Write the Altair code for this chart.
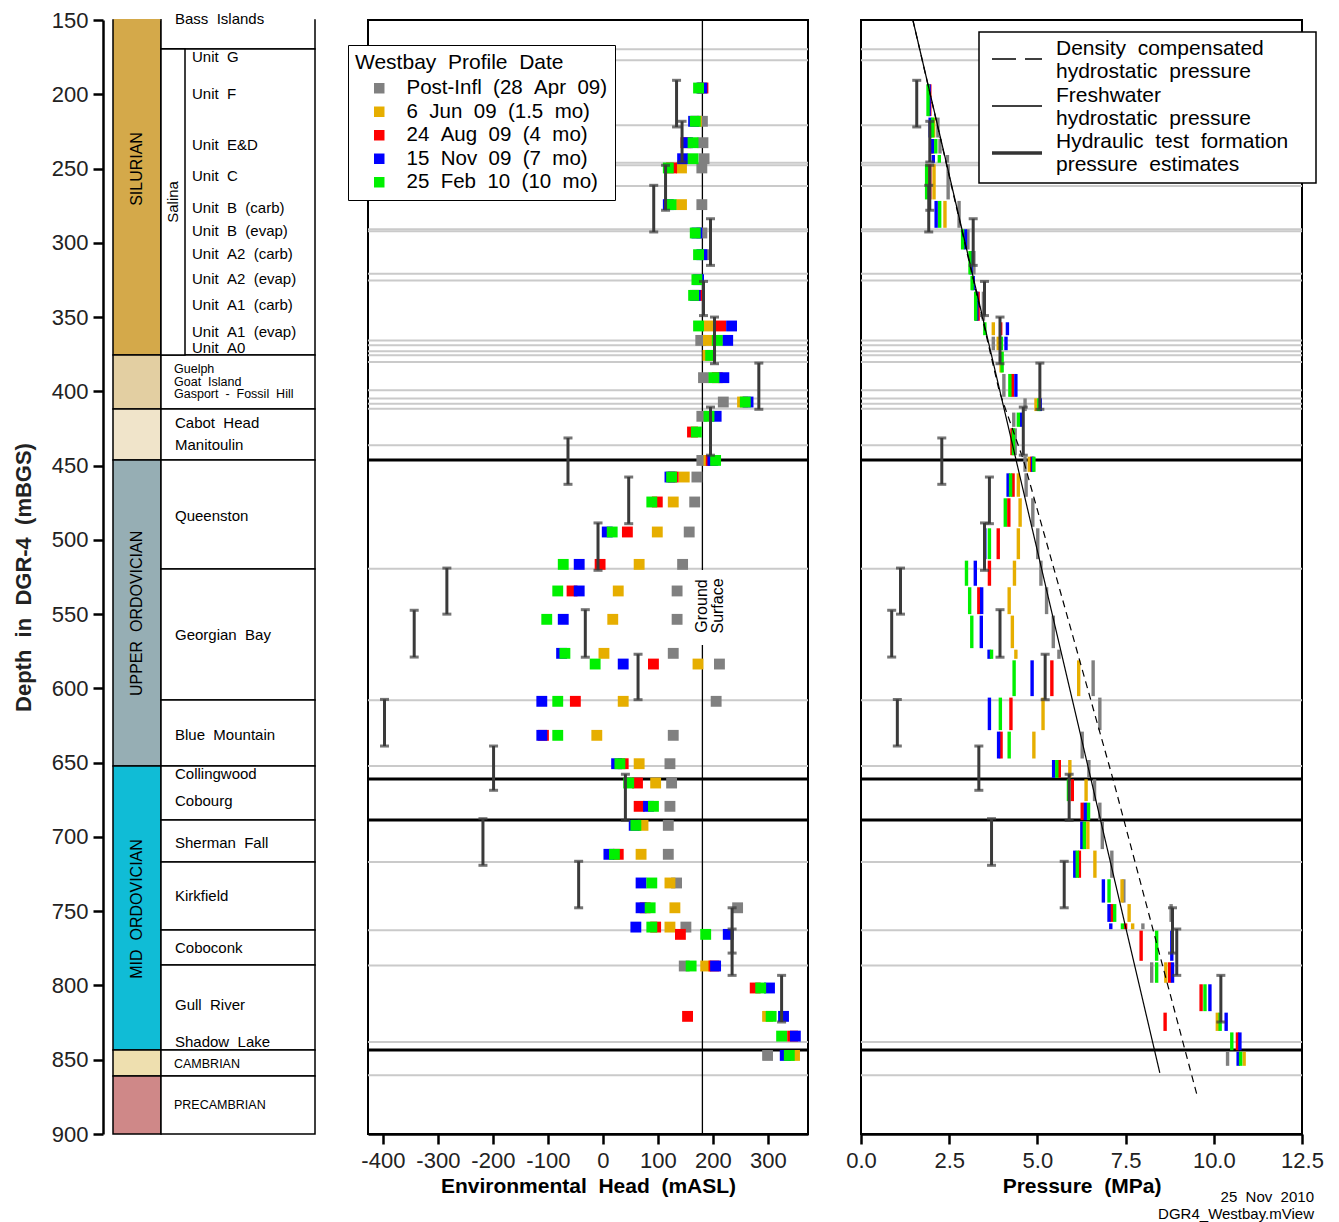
import altair as alt
import pandas as pd

FONT = "Liberation Sans"
NB = "\u00a0"


def w(s):
    return s.replace("  ", " " + NB)


# ---------------- depth ----------------
DEPTH_DOMAIN = [150, 900]
depth_ticks = list(range(150, 901, 50))

# ---------------- stratigraphy ----------------
period_top = [150, 375.5, 411.9, 446.2, 652.3, 843.5, 860.9]
period_bot = [375.5, 411.9, 446.2, 652.3, 843.5, 860.9, 900]
period_color = ["#D4A94A", "#E3CFA2", "#F0E4CA", "#96AEB4", "#10BCD6", "#EEDFAF", "#CF8888"]

period_label = ["SILURIAN", "UPPER  ORDOVICIAN", "MID  ORDOVICIAN"]
period_label_depth = [250.3, 549.5, 748.5]

formation_top = [150, 169.5, 375.5, 411.9, 446.2, 519.6, 607.8, 652.3, 688.6, 716.9,
                 762.7, 786.3, 843.5, 860.9]
formation_bot = [169.5, 375.5, 411.9, 446.2, 519.6, 607.8, 652.3, 688.6, 716.9, 762.7,
                 786.3, 843.5, 860.9, 900]
salina_top = [169.5]
salina_bot = [375.5]

normal_labels = ["Bass  Islands", "Cabot  Head", "Manitoulin", "Queenston", "Georgian  Bay",
                 "Blue  Mountain", "Collingwood", "Cobourg", "Sherman  Fall", "Kirkfield",
                 "Coboconk", "Gull  River", "Shadow  Lake"]
normal_depth = [149.5, 421.3, 436.1, 484, 564, 631.4, 657.6, 675.8, 704.1, 739.8, 774.8, 813.2, 838.1]

unit_labels = ["Unit  G", "Unit  F", "Unit  E&D", "Unit  C", "Unit  B  (carb)", "Unit  B  (evap)",
               "Unit  A2  (carb)", "Unit  A2  (evap)", "Unit  A1  (carb)", "Unit  A1  (evap)", "Unit  A0"]
unit_depth = [174.9, 199.8, 234.2, 255, 276.6, 292, 307.5, 324.4, 341.9, 360.0, 370.8]

small_labels = ["Guelph", "Goat  Island", "Gasport  -  Fossil  Hill", "CAMBRIAN", "PRECAMBRIAN"]
small_depth = [385.0, 393.5, 401.5, 852.9, 880.5]

salina_label = ["Salina"]
salina_label_depth = [272.5]

# ---------------- Westbay profiles ----------------
dates = ["Post-Infl  (28  Apr  09)", "6  Jun  09  (1.5  mo)", "24  Aug  09  (4  mo)",
         "15  Nov  09  (7  mo)", "25  Feb  10  (10  mo)"]
date_colors = ["#808080", "#E6AE00", "#FF0000", "#0000FF", "#00F000"]

port_depth = [195.8, 218.2, 232.6, 243.4, 249.6, 274.3, 293.4, 308.0, 324.8, 335.4,
              356.0, 365.7, 375.8, 390.8, 407.2, 416.8, 427.4, 446.5, 457.7, 474.5,
              494.7, 516.5, 534.4, 553.5, 576.4, 583.6, 608.7, 631.6, 650.7, 663.7,
              679.4, 692.2, 711.7, 731.0, 747.7, 760.7, 765.6, 786.9, 801.7, 820.8,
              834.1, 847.1]

N = None
head_gray = [N, 181, 182, 184, 180, 180, 180, 186, N, N,
             N, 178, N, 183, 219, 180, N, 180, 171, 167,
             157, 145, 135, 135, 128, 212, 206, 128, 122, 125,
             122, 119, 119, 134, 245, 151, N, 148, N, N,
             N, 299.5]
head_orange = [N, 170, N, N, 143, 143, N, N, N, N,
               193, 192, 191, N, 254, N, N, 193, 148, 128,
               99, 66, 28, 18, 2, 173, 37, -11, 66, 96,
               N, 73, 69.5, 122, 131, 122, N, 187, N, 299.5,
               N, 348.5]
head_red = [182, N, 151, N, 125, N, N, N, N, 171,
            214, N, N, 208, N, N, 163, 197, 128, 99,
            44.6, -5, -56, N, N, 92, -50, -108, 37, 63,
            66, N, 28, N, 77, 96, 141, 202, 277, 154,
            345, N]
head_blue = [180, 165, 154, 145, N, 119, 171, 180, 174, 168,
             234, 227, N, 220, 264, 206, N, 200, 122, N,
             8, -43, -43, -72, -75, 37, -111, -111, 25, N,
             83, 57, 11, 69.5, 69.5, 60, 228, 205, 303, 328.5,
             350, 331.6]
head_green = [174, 168, 164, 164, 119, 124, 168, 174, 171, 165,
              174, 208, 196, 202, 259, 193, 170, 205, 125, 89,
              17, -72, -82, -102, -69, -14, -82, -82, 31, 47,
              92, 60, 21, 89, 86, 89, 187, 160.5, 287, 306,
              325, 339]

pres_gray = [N, 2.18, 2.24, 2.45, 2.47, 2.78, 3.03, 3.20, 3.17, 3.47,
             N, 3.75, N, 4.05, 4.65, 4.33, 4.37, 4.65, 4.68, 4.87,
             5.01, 5.10, 5.26, 5.45, 5.61, 6.58, 6.77, 6.27, 6.46, 6.62,
             6.77, 6.84, 7.11, 7.45, 8.79, 7.99, N, 8.24, N, N,
             N, 10.39]
pres_orange = [N, 2.06, N, N, 2.07, 2.38, N, N, N, N,
               3.75, 3.89, 3.97, N, 4.96, N, N, 4.77, 4.46, 4.51,
               4.46, 4.35, 4.20, 4.29, 4.39, 6.17, 5.16, 4.90, 5.92, 6.38,
               N, 6.43, 6.63, 7.40, 7.60, 7.70, N, 8.64, N, 10.10,
               N, 10.86]
pres_red = [1.95, N, 2.00, N, 1.95, N, N, N, N, 3.32,
            3.96, N, N, 4.29, N, N, 4.28, 4.84, 4.31, 4.19,
            3.89, 3.64, 3.34, N, N, 5.41, 4.25, 3.97, 5.62, 5.99,
            6.27, N, 6.19, N, 7.10, 7.50, 7.94, 8.75, 9.64, 8.62,
            10.67, N]
pres_blue = [1.93, 1.96, 2.03, 2.05, N, 2.13, 2.96, 3.12, 3.18, 3.28,
             4.15, 4.11, N, 4.39, 5.08, 4.55, N, 4.87, 4.17, N,
             3.51, 3.24, 3.42, 3.41, 3.63, 4.85, 3.64, 3.90, 5.46, N,
             6.36, 6.26, 6.06, 6.87, 7.03, 7.08, 8.81, 8.83, 9.89, 10.35,
             10.74, 10.69]
pres_green = [1.90, 2.03, 2.12, 2.22, 1.86, 2.23, 2.88, 3.09, 3.15, 3.25,
              3.51, 3.98, 4.00, 4.22, 5.04, 4.46, 4.32, 4.90, 4.24, 4.09,
              3.64, 2.99, 3.08, 3.14, 3.70, 4.34, 3.95, 4.20, 5.55, 5.88,
              6.45, 6.33, 6.13, 7.03, 7.19, 7.41, 8.38, 8.38, 9.75, 10.18,
              10.51, 10.76]

# ---------------- hydraulic tests ----------------
test_top = [190.6, 218.2, 247.8, 261.3, 283.8, 326.0, 350.0, 381.0, 410.6, 431.4,
            457.7, 488.6, 519.0, 547.4, 547.0, 577.0, 607.4, 638.8, 657.8, 687.7,
            716.4, 747.7, 762.0, 793.2]
test_bot = [222.0, 245.6, 278.1, 292.7, 315.2, 349.0, 381.4, 412.1, 443.0, 462.6,
            489.1, 520.5, 550.0, 578.9, 579.0, 607.6, 638.8, 668.6, 688.8, 719.1,
            747.7, 778.2, 793.2, 824.6]
test_head = [134, 144, 114, 92.5, 195.7, 183, 203, 283.6, 195.7, -63.4,
             47, -8.8, -283.6, -343, -31.9, 64, -397, -198.7, 41, -218,
             -44, 235, 235, 325]
test_pres = [1.58, 1.95, 1.95, 1.92, 3.18, 3.50, 3.94, 5.07, 4.60, 2.29,
             3.64, 3.50, 1.12, 0.87, 3.94, 5.22, 1.03, 3.34, 5.90, 3.70,
             5.76, 8.83, 8.95, 10.20]

# ---------------- reference lines ----------------
interval_lines = [169.7, 177.1, 220.9, 246.1, 247.8, 261.8, 290.9, 292.3, 320.8, 325.3,
                  365.7, 369.0, 373.0, 375.7, 380.2, 399.3, 404.9, 408.3, 411.7, 436.3,
                  519.4, 608.0, 652.3, 716.9, 762.9, 786.5, 838.1, 860.5]
major_lines = [446.2, 661.0, 688.6, 843.5]

ground_head = 181
ground_gap = [520.3, 570.8]
ground_label_depth = 544.5

fresh_depth = [150, 858.8]
fresh_pres = [1.47, 8.47]
dens_depth = [150, 400, 446, 661.7, 873.5]
dens_pres = [1.47, 3.92, 4.60, 7.15, 9.52]

head_ticks = [-400, -300, -200, -100, 0, 100, 200, 300]
pres_ticks = [0, 2.5, 5, 7.5, 10, 12.5]

# ================= build tables =================
head_arrays = [head_gray, head_orange, head_red, head_blue, head_green]
pres_arrays = [pres_gray, pres_orange, pres_red, pres_blue, pres_green]


def long_table(arrays, name):
    rows = []
    for k, lab in enumerate(dates):
        for i, d in enumerate(port_depth):
            v = arrays[k][i]
            if v is None:
                continue
            nxt = port_depth[i + 1] if i + 1 < len(port_depth) else d + 10.5
            rows.append({"date": w(lab), "depth": d, "top": d - 2.5, "bot": nxt - 3.5, name: v})
    return pd.DataFrame(rows)


df_head = long_table(head_arrays, "h")
df_pres = long_table(pres_arrays, "P")
date_domain = [w(d) for d in dates]

df_tests = pd.DataFrame({"top": test_top, "bot": test_bot, "h": test_head, "P": test_pres})
df_caps = pd.concat([
    pd.DataFrame({"d": test_top, "h": test_head, "P": test_pres}),
    pd.DataFrame({"d": test_bot, "h": test_head, "P": test_pres}),
])
df_int = pd.DataFrame({"d": interval_lines})
df_major = pd.DataFrame({"d": major_lines})

yscale = alt.Scale(domain=DEPTH_DOMAIN, reverse=True, nice=False, zero=False)


def Yn(field):
    return alt.Y(field, type="quantitative", scale=yscale, axis=None)


# ================= panel 1 : stratigraphy =================
depth_axis = alt.Axis(values=depth_ticks, tickSize=10, tickWidth=2.5, domainWidth=2.5,
                      domainColor="black", tickColor="black", labelFontSize=22, labelColor="#222",
                      labelPadding=5, labelFlush=False, labelOverlap=False, grid=False,
                      title=w("Depth  in  DGR-4  (mBGS)"), titleFontSize=22, titleFontWeight="bold",
                      titleColor="#222", titlePadding=16)


def Ys(field):
    return alt.Y(field, type="quantitative", scale=yscale, axis=depth_axis)


df_period = pd.DataFrame({"top": period_top, "bot": period_bot, "k": [str(i) for i in range(len(period_top))]})
periods = alt.Chart(df_period).mark_rect(stroke="black", strokeWidth=1.5).encode(
    x=alt.value(10), x2=alt.value(58), y=Ys("top"), y2="bot",
    fill=alt.Fill("k:N", scale=alt.Scale(domain=list(df_period["k"]), range=period_color), legend=None),
)
df_form = pd.DataFrame({"top": formation_top, "bot": formation_bot})
forms = alt.Chart(df_form).mark_rect(fill="white", stroke="black", strokeWidth=1.5).encode(
    x=alt.value(58), x2=alt.value(212), y=Ys("top"), y2="bot")
df_sal = pd.DataFrame({"top": salina_top, "bot": salina_bot})
salina_box = alt.Chart(df_sal).mark_rect(fill="white", stroke="black", strokeWidth=1.5).encode(
    x=alt.value(58), x2=alt.value(82), y=Ys("top"), y2="bot")
# the column is open at the top of the plot: hide the upper edge of the first boxes
df_open = pd.DataFrame({"d": [formation_top[0]]})
open_top = alt.Chart(df_open).mark_rule(color="white", strokeWidth=2.2).encode(
    x=alt.value(58.8), x2=alt.value(211.2), y=Ys("d"))
df_open2 = pd.DataFrame({"d": [period_top[0]]})
open_top2 = alt.Chart(df_open2).mark_rule(color=period_color[0], strokeWidth=2.2).encode(
    x=alt.value(10.8), x2=alt.value(57.2), y=Ys("d"))


def label_layer(labels, depths, xpx, size, **kw):
    df = pd.DataFrame({"t": [w(s) for s in labels], "d": depths})
    return alt.Chart(df).mark_text(align="left", baseline="middle", fontSize=size, color="black", **kw).encode(
        x=alt.value(xpx), y=Ys("d"), text="t:N")


lab_normal = label_layer(normal_labels, normal_depth, 72, 15)
lab_unit = label_layer(unit_labels, unit_depth, 89, 15)
lab_small = label_layer(small_labels, small_depth, 71, 12.5)
df_pl = pd.DataFrame({"t": [w(s) for s in period_label], "d": period_label_depth})
lab_period = alt.Chart(df_pl).mark_text(angle=270, align="center", baseline="middle", fontSize=16,
                                        color="black").encode(x=alt.value(34), y=Ys("d"), text="t:N")
df_sl = pd.DataFrame({"t": salina_label, "d": salina_label_depth})
lab_salina = alt.Chart(df_sl).mark_text(angle=270, align="center", baseline="middle", fontSize=15,
                                        color="black").encode(x=alt.value(70), y=Ys("d"), text="t:N")

strat = alt.layer(periods, forms, salina_box, open_top, open_top2, lab_normal, lab_unit, lab_small,
                  lab_period, lab_salina).properties(width=212, height=1114)

# ================= panel 2 : environmental head =================
hscale = alt.Scale(domain=[-427, 373], nice=False, zero=False)
head_axis = alt.Axis(values=head_ticks, labelExpr="datum.value + ''", tickSize=10, tickWidth=2.5,
                     domainWidth=2.5, domainColor="black", tickColor="black", labelFontSize=22,
                     labelColor="#222", labelPadding=6, labelFlush=False, grid=False,
                     title=w("Environmental  Head  (mASL)"), titleFontSize=21, titleFontWeight="bold",
                     titleColor="black", titlePadding=4)


def HX(field):
    return alt.X(field, type="quantitative", scale=hscale, axis=head_axis)


grey_rules_h = alt.Chart(df_int).mark_rule(color="#CACACA", strokeWidth=2).encode(y=Yn("d"))
major_rules_h = alt.Chart(df_major).mark_rule(color="black", strokeWidth=3).encode(y=Yn("d"))
df_ground = pd.DataFrame({"h": [ground_head, ground_head], "top": [150, ground_gap[1]], "bot": [ground_gap[0], 900]})
ground = alt.Chart(df_ground).mark_rule(color="black", strokeWidth=1.3).encode(x=HX("h"), y=Yn("top"), y2="bot")

head_legend = alt.Legend(title=w("Westbay  Profile  Date"), orient="none", legendX=-20, legendY=25,
                         titleFontSize=21, titleFontWeight="normal", titleColor="black", titlePadding=5,
                         titleLimit=0, labelLimit=0,
                         labelFontSize=20.5, labelColor="black", labelOffset=17, symbolType="square",
                         symbolSize=110, symbolStrokeWidth=0, symbolOffset=14, symbolOpacity=1,
                         rowPadding=2.5, padding=7, fillColor="white", strokeColor="black")
markers_h = alt.Chart(df_head).mark_square(size=118, opacity=1, filled=True, strokeWidth=0).encode(
    x=HX("h"), y=Yn("depth"),
    color=alt.Color("date:N", scale=alt.Scale(domain=date_domain, range=date_colors), legend=head_legend))
err_h = alt.Chart(df_tests).mark_rule(color="#3A3A3A", strokeWidth=3).encode(x=HX("h"), y=Yn("top"), y2="bot")
caps_h = alt.Chart(df_caps).mark_tick(orient="horizontal", size=9, thickness=3, color="#3A3A3A").encode(
    x=HX("h"), y=Yn("d"))
df_gl = pd.DataFrame({"h": [ground_head], "d": [ground_label_depth]})
ground_text = alt.Chart(df_gl).mark_text(text=["Ground", "Surface"], angle=270, align="center",
                                         baseline="middle", fontSize=16, lineHeight=15.5,
                                         color="black").encode(x=HX("h"), y=Yn("d"))

headp = alt.layer(grey_rules_h, major_rules_h, ground, markers_h, err_h, caps_h, ground_text).properties(
    width=440, height=1114, view=alt.ViewBackground(stroke="black", strokeWidth=2))

# ================= panel 3 : pressure =================
pscale = alt.Scale(domain=[0, 12.5], nice=False, zero=False)
pres_axis = alt.Axis(values=pres_ticks, format=".1f", tickSize=10, tickWidth=2.5, domainWidth=2.5,
                     domainColor="black", tickColor="black", labelFontSize=22, labelColor="#222",
                     labelPadding=6, labelFlush=False, grid=False, title=w("Pressure  (MPa)"),
                     titleFontSize=21, titleFontWeight="bold", titleColor="black", titlePadding=4)


def PX(field):
    return alt.X(field, type="quantitative", scale=pscale, axis=pres_axis)


grey_rules_p = alt.Chart(df_int).mark_rule(color="#CACACA", strokeWidth=2).encode(y=Yn("d"))
major_rules_p = alt.Chart(df_major).mark_rule(color="black", strokeWidth=3).encode(y=Yn("d"))
bars_p = alt.Chart(df_pres).mark_rule(strokeWidth=3.4, strokeCap="butt").encode(
    x=PX("P"), y=Yn("top"), y2="bot",
    color=alt.Color("date:N", scale=alt.Scale(domain=date_domain, range=date_colors), legend=None))
df_fresh = pd.DataFrame({"P": fresh_pres, "depth": fresh_depth})
df_dens = pd.DataFrame({"P": dens_pres, "depth": dens_depth})
fresh_line = alt.Chart(df_fresh).mark_line(color="black", strokeWidth=1.2).encode(
    x=PX("P"), y=Yn("depth"), order="depth:Q")
dens_line = alt.Chart(df_dens).mark_line(color="black", strokeWidth=1.2, strokeDash=[7, 5]).encode(
    x=PX("P"), y=Yn("depth"), order="depth:Q")
err_p = alt.Chart(df_tests).mark_rule(color="#3A3A3A", strokeWidth=3).encode(x=PX("P"), y=Yn("top"), y2="bot")
caps_p = alt.Chart(df_caps).mark_tick(orient="horizontal", size=9, thickness=3, color="#3A3A3A").encode(
    x=PX("P"), y=Yn("d"))

one = pd.DataFrame({"a": [0]})
leg_box = alt.Chart(one).mark_rect(fill="white", stroke="black", strokeWidth=1.5).encode(
    x=alt.value(118), x2=alt.value(455), y=alt.value(12), y2=alt.value(163))
leg_dash = alt.Chart(one).mark_rule(color="black", strokeWidth=1.3, strokeDash=[24, 9]).encode(
    x=alt.value(131), x2=alt.value(181), y=alt.value(39))
leg_thin = alt.Chart(one).mark_rule(color="black", strokeWidth=1.3).encode(
    x=alt.value(131), x2=alt.value(181), y=alt.value(86))
leg_thick = alt.Chart(one).mark_rule(color="#333", strokeWidth=3.5).encode(
    x=alt.value(131), x2=alt.value(181), y=alt.value(133))
leg_lines = ["Density  compensated", "hydrostatic  pressure", "Freshwater", "hydrostatic  pressure",
             "Hydraulic  test  formation", "pressure  estimates"]
leg_y = [29, 52, 76, 99, 122, 145]
leg_texts = [alt.Chart(one).mark_text(text=w(t), align="left", baseline="middle", fontSize=21,
                                      color="black").encode(x=alt.value(195), y=alt.value(yy))
             for t, yy in zip(leg_lines, leg_y)]
foot1 = alt.Chart(one).mark_text(text=w("25  Nov  2010"), align="right", baseline="middle", fontSize=15,
                                 color="black").encode(x=alt.value(453), y=alt.value(1177))
foot2 = alt.Chart(one).mark_text(text="DGR4_Westbay.mView", align="right", baseline="middle", fontSize=15,
                                 color="black").encode(x=alt.value(453), y=alt.value(1194))

presp = alt.layer(grey_rules_p, major_rules_p, bars_p, fresh_line, dens_line, err_p, caps_p,
                  leg_box, leg_dash, leg_thin, leg_thick, *leg_texts, foot1, foot2).properties(
    width=441, height=1114, view=alt.ViewBackground(stroke="black", strokeWidth=2))

chart = alt.hconcat(strat, headp, presp, spacing=53, bounds="flush").resolve_scale(
    color="independent", x="independent", y="independent", fill="independent").resolve_legend(
    color="independent").properties(
    padding={"left": 3, "top": 0, "right": 4, "bottom": 4}, background="white"
).configure(font=FONT).configure_view(stroke="transparent")

chart.save("out.html", embed_options={"renderer": "svg", "actions": False})
